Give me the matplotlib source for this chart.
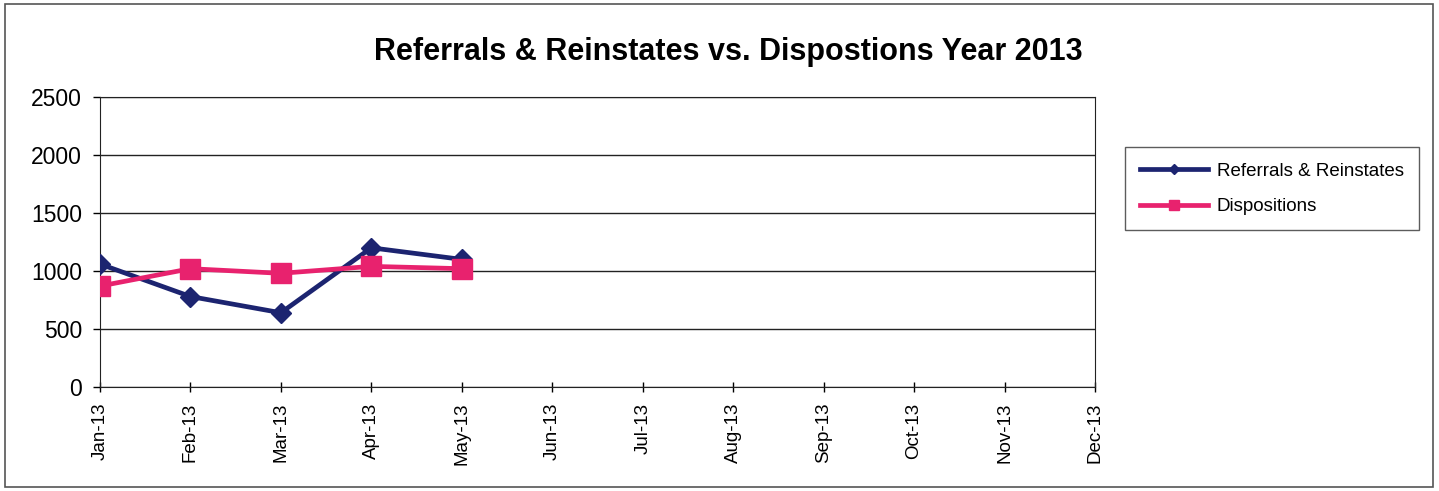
import matplotlib
matplotlib.use("Agg")
import matplotlib.pyplot as plt
from matplotlib.patches import Rectangle

MONTHS = ["Jan-13", "Feb-13", "Mar-13", "Apr-13", "May-13", "Jun-13",
          "Jul-13", "Aug-13", "Sep-13", "Oct-13", "Nov-13", "Dec-13"]
REFERRALS = [1060, 780, 640, 1200, 1100]
DISPOSITIONS = [870, 1020, 980, 1040, 1020]
Y_TICKS = [0, 500, 1000, 1500, 2000, 2500]

NAVY = "#1c2470"
PINK = "#e8226e"

plt.rcParams["font.family"] = ["Liberation Sans", "DejaVu Sans"]

fig = plt.figure(figsize=(14.39, 4.91), dpi=100)
ax = fig.add_axes([100 / 1439, 1 - 387 / 491, 995 / 1439, 290 / 491])

# outer chart border
fig.patches.append(Rectangle((5 / 1439, 4 / 491), 1428 / 1439, 483 / 491,
                             transform=fig.transFigure, fill=False,
                             edgecolor="#555555", linewidth=1.2))

x_ref = list(range(len(REFERRALS)))
x_dis = list(range(len(DISPOSITIONS)))
ax.plot(x_ref, REFERRALS, color=NAVY, lw=3.4, marker="D", ms=10,
        label="Referrals & Reinstates", zorder=3)
ax.plot(x_dis, DISPOSITIONS, color=PINK, lw=3.4, marker="s", ms=15,
        label="Dispositions", zorder=4)

ax.set_xlim(0, len(MONTHS) - 1)
ax.set_ylim(0, 2500)
ax.set_xticks(range(len(MONTHS)))
ax.set_xticklabels(MONTHS, rotation=90, fontsize=13.5)
ax.set_yticks(Y_TICKS)
ax.tick_params(axis="y", labelsize=16.5, length=5, width=1, pad=8)
ax.tick_params(axis="x", length=7, width=1, direction="inout", pad=8)
ax.grid(axis="y", color="#222222", lw=1)
ax.set_axisbelow(True)
for s in ax.spines.values():
    s.set_color("#222222")

fig.suptitle("Referrals & Reinstates vs. Dispostions Year 2013",
             x=728 / 1439, y=1 - 52 / 491, va="center",
             fontsize=22, fontweight="bold")

leg = ax.legend(loc="center left", bbox_to_anchor=(1025 / 995, 0.683),
                borderaxespad=0, fontsize=13.5, frameon=True, fancybox=False,
                edgecolor="#333333", borderpad=0.8, labelspacing=1.0,
                handlelength=3.6, handletextpad=0.5, markerscale=0.5)
leg.get_frame().set_linewidth(1)

fig.savefig("out.png", dpi=100)
